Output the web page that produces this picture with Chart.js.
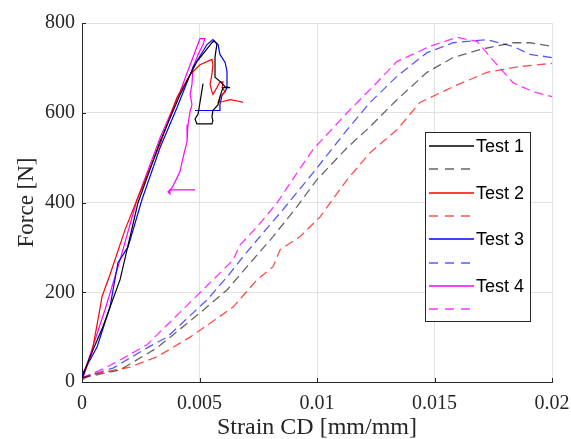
<!DOCTYPE html>
<html>
<head>
<meta charset="utf-8">
<title>Force vs Strain CD</title>
<script src="https://cdn.jsdelivr.net/npm/chart.js@4.4.0/dist/chart.umd.min.js"></script>
<style>
  html, body { margin: 0; padding: 0; background: #ffffff; }
  #wrap { width: 571px; height: 439px; }
</style>
</head>
<body>
<div id="wrap"><canvas id="forceChart" width="571" height="439"></canvas></div>
<script>
// Tick labels
const xTickLabels = ['0', '0.005', '0.01', '0.015', '0.02'];
const yTickLabels = ['0', '200', '400', '600', '800'];

// Test 1 (black)
const t1SolidX = [0, 0.00034, 0.00089, 0.00162, 0.00238, 0.00332, 0.00417, 0.00489, 0.00553, 0.00562, 0.00574, 0.00566, 0.00566, 0.00587, 0.00609, 0.0063, 0.006, 0.00587, 0.00579, 0.00557, 0.00553, 0.00557, 0.00553, 0.00489, 0.00481, 0.00494, 0.00515];
const t1SolidY = [9, 56, 123, 228, 399, 536, 640, 714, 756, 760, 753, 724, 679, 670, 658, 656, 656, 636, 618, 605, 591, 582, 575, 575, 586, 597, 665];
const t1DashX = [0, 0.00162, 0.00319, 0.00387, 0.00502, 0.00617, 0.00702, 0.00813, 0.00915, 0.01, 0.01128, 0.01226, 0.0134, 0.01468, 0.01579, 0.01694, 0.01834, 0.01906, 0.02];
const t1DashY = [9, 27, 76, 105, 154, 205, 257, 324, 391, 451, 522, 569, 629, 690, 723, 741, 756, 756, 748];

// Test 2 (red)
const t2SolidX = [0, 0.00043, 0.00077, 0.00085, 0.00119, 0.00183, 0.00234, 0.00332, 0.00404, 0.0046, 0.00502, 0.00553, 0.00557, 0.00553, 0.00545, 0.00553, 0.00557, 0.00574, 0.00587, 0.006, 0.00596, 0.00609, 0.00587, 0.00579, 0.006, 0.0063, 0.00672, 0.00685];
const t2SolidY = [4, 67, 165, 190, 239, 339, 406, 530, 634, 685, 707, 719, 708, 686, 663, 647, 641, 656, 669, 669, 656, 647, 634, 623, 625, 629, 625, 623];
const t2DashX = [0, 0.00034, 0.00204, 0.00319, 0.0046, 0.00643, 0.00745, 0.00813, 0.00843, 0.00928, 0.01013, 0.01128, 0.01226, 0.0134, 0.01438, 0.01579, 0.01723, 0.01864, 0.02];
const t2DashY = [4, 16, 33, 56, 100, 167, 228, 257, 295, 324, 368, 451, 511, 562, 623, 658, 690, 703, 710];

// Test 3 (blue)
const t3SolidX = [0, 0.00004, 0.00064, 0.00119, 0.00153, 0.00196, 0.00255, 0.00332, 0.00404, 0.00472, 0.00532, 0.00557, 0.00579, 0.00587, 0.00609, 0.00617, 0.00617, 0.00609, 0.00596, 0.00587, 0.00587, 0.00481];
const t3SolidY = [9, 20, 78, 167, 266, 301, 406, 522, 611, 701, 752, 763, 752, 730, 712, 692, 656, 647, 640, 618, 605, 605];
const t3DashX = [0, 0.00132, 0.00277, 0.00362, 0.00532, 0.00617, 0.00685, 0.0077, 0.00855, 0.00983, 0.01128, 0.01226, 0.0134, 0.01468, 0.01579, 0.01723, 0.01834, 0.01906, 0.02];
const t3DashY = [9, 31, 76, 100, 183, 234, 279, 332, 384, 466, 562, 623, 681, 734, 756, 763, 748, 730, 723];

// Test 4 (magenta)
const t4SolidX = [0, 0.00034, 0.00098, 0.00162, 0.00234, 0.00332, 0.00417, 0.00472, 0.00502, 0.00523, 0.00515, 0.00494, 0.00472, 0.00468, 0.0046, 0.00468, 0.0046, 0.00451, 0.00447, 0.0043, 0.00417, 0.00396, 0.00383, 0.00366, 0.00374, 0.00374, 0.00481];
const t4SolidY = [9, 60, 161, 272, 406, 544, 647, 723, 765, 765, 752, 730, 701, 663, 641, 618, 603, 574, 536, 500, 469, 446, 433, 424, 419, 428, 428];
const t4DashX = [0, 0.00106, 0.00277, 0.00319, 0.00502, 0.00643, 0.00672, 0.00745, 0.0083, 0.00915, 0.00983, 0.01128, 0.01226, 0.0134, 0.01481, 0.01596, 0.01681, 0.01736, 0.01834, 0.01919, 0.02];
const t4DashY = [9, 33, 83, 105, 199, 272, 305, 346, 399, 466, 518, 600, 652, 714, 748, 768, 759, 725, 667, 647, 636];

function toPoints(xs, ys) {
    return xs.map((x, i) => ({ x: x, y: ys[i] }));
}

function solid(label, color, xs, ys) {
    return {
        label: label,
        data: toPoints(xs, ys),
        showLine: true,
        borderColor: color,
        backgroundColor: color,
        borderWidth: 1.2,
        pointRadius: 0,
        tension: 0
    };
}

function dashed(color, xs, ys) {
    return {
        label: '',
        data: toPoints(xs, ys),
        showLine: true,
        borderColor: color,
        backgroundColor: color,
        borderWidth: 1.3,
        borderDash: [9, 5],
        pointRadius: 0,
        tension: 0
    };
}

const serif = "'Liberation Serif', 'DejaVu Serif', serif";
const axisColor = '#262626';
const gridColor = '#e2e2e2';

// legend box drawn inside the plot, like the original
const legendBox = {
    id: 'legendBox',
    afterDraw(chart) {
        const ctx = chart.ctx;
        const left = 425, top = 132, w = 105, h = 189;
        const rowH = 23.3;
        ctx.save();
        ctx.setLineDash([]);
        ctx.fillStyle = '#ffffff';
        ctx.fillRect(left, top, w, h);
        ctx.strokeStyle = axisColor;
        ctx.lineWidth = 1;
        ctx.strokeRect(left + 0.5, top + 0.5, w, h);
        chart.data.datasets.forEach((ds, i) => {
            const y = Math.round(top + 14 + i * rowH);
            ctx.save();
            ctx.beginPath();
            ctx.strokeStyle = ds.borderColor;
            ctx.lineWidth = 1.4;
            ctx.setLineDash(ds.borderDash ? [9, 7] : []);
            ctx.moveTo(429, y);
            ctx.lineTo(474, y);
            ctx.stroke();
            ctx.restore();
            if (ds.label) {
                ctx.fillStyle = '#000000';
                ctx.font = "18px 'Liberation Sans', Arial, sans-serif";
                ctx.textBaseline = 'middle';
                ctx.textAlign = 'left';
                ctx.fillText(ds.label, 476, y + 1);
            }
        });
        ctx.restore();
    }
};

// small inward tick marks
const innerTicks = {
    id: 'innerTicks',
    afterDatasetsDraw(chart) {
        const ctx = chart.ctx;
        const xs = chart.scales.x, ys = chart.scales.y;
        const area = chart.chartArea;
        ctx.save();
        ctx.strokeStyle = axisColor;
        ctx.lineWidth = 1;
        ctx.setLineDash([]);
        ctx.beginPath();
        xs.ticks.forEach(t => {
            const px = Math.round(xs.getPixelForValue(t.value)) + 0.5;
            ctx.moveTo(px, area.bottom);
            ctx.lineTo(px, area.bottom - 4);
        });
        ys.ticks.forEach(t => {
            const py = Math.round(ys.getPixelForValue(t.value)) + 0.5;
            ctx.moveTo(area.left, py);
            ctx.lineTo(area.left + 4, py);
        });
        ctx.stroke();
        ctx.restore();
    }
};

const ctx = document.getElementById('forceChart').getContext('2d');

new Chart(ctx, {
    type: 'scatter',
    data: {
        datasets: [
            solid('Test 1', '#000000', t1SolidX, t1SolidY),
            dashed('rgba(0,0,0,0.6)', t1DashX, t1DashY),
            solid('Test 2', '#ff0000', t2SolidX, t2SolidY),
            dashed('rgba(255,0,0,0.7)', t2DashX, t2DashY),
            solid('Test 3', '#0000ff', t3SolidX, t3SolidY),
            dashed('rgba(0,0,255,0.65)', t3DashX, t3DashY),
            solid('Test 4', '#ff00ff', t4SolidX, t4SolidY),
            dashed('rgba(255,0,255,0.8)', t4DashX, t4DashY)
        ]
    },
    options: {
        responsive: false,
        animation: false,
        layout: { padding: { left: 0, right: 19, top: 23, bottom: 0 } },
        plugins: {
            legend: { display: false },
            tooltip: { enabled: false }
        },
        scales: {
            x: {
                type: 'linear',
                min: 0,
                max: 0.02,
                afterFit: (scale) => {
                    scale.height = 57;
                    scale.paddingRight = 0;
                    scale.paddingLeft = 0;
                },
                afterBuildTicks: (scale) => {
                    scale.ticks = xTickLabels.map(v => ({ value: parseFloat(v) }));
                },
                ticks: {
                    padding: 10,
                    color: axisColor,
                    font: { family: serif, size: 20 },
                    callback: (value, index) => xTickLabels[index]
                },
                grid: { color: gridColor, drawTicks: false },
                border: { display: true, color: axisColor, width: 1 },
                title: {
                    display: true,
                    text: 'Strain CD [mm/mm]',
                    color: axisColor,
                    font: { family: serif, size: 24, lineHeight: 0.9 },
                    padding: { top: 0, bottom: 0 }
                }
            },
            y: {
                type: 'linear',
                min: 0,
                max: 800,
                afterFit: (scale) => { scale.width = 82; },
                afterBuildTicks: (scale) => {
                    scale.ticks = yTickLabels.map(v => ({ value: parseFloat(v) }));
                },
                ticks: {
                    padding: 7,
                    color: axisColor,
                    font: { family: serif, size: 20 },
                    callback: (value, index) => yTickLabels[index]
                },
                grid: { color: gridColor, drawTicks: false },
                border: { display: true, color: axisColor, width: 1 },
                title: {
                    display: true,
                    text: 'Force [N]',
                    color: axisColor,
                    font: { family: serif, size: 23, lineHeight: 1 },
                    padding: { top: 15, bottom: 0 }
                }
            }
        }
    },
    plugins: [innerTicks, legendBox]
});
</script>
</body>
</html>
